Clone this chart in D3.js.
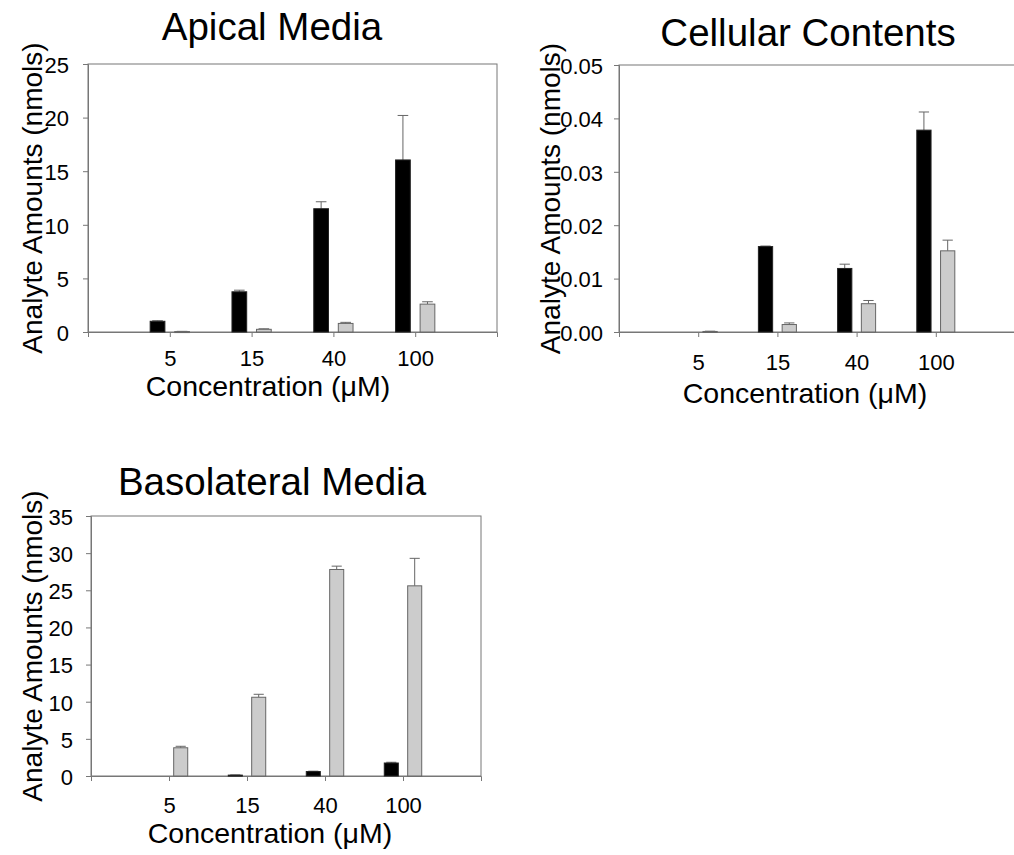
<!DOCTYPE html>
<html>
<head>
<meta charset="utf-8">
<script src="https://cdn.jsdelivr.net/npm/d3@7"></script>
<style>
  body { margin: 0; background: #fff; }
  svg { display: block; font-family: "Liberation Sans", Arial, sans-serif; }
</style>
</head>
<body>
<script>
// Concentrations on the x axis (µM)
const concentrations = ["5", "15", "40", "100"];

// Apical media (nmols)
const apicalBlack = [1.0, 3.75, 11.5, 16.05];
const apicalBlackErr = [0.05, 0.15, 0.65, 4.15];
const apicalGray = [0.04, 0.25, 0.8, 2.6];
const apicalGrayErr = [0.02, 0.05, 0.1, 0.22];

// Cellular contents (nmols)
const cellBlack = [0, 0.016, 0.0119, 0.0378];
const cellBlackErr = [0, 0.0001, 0.0008, 0.0034];
const cellGray = [0.0001, 0.0014, 0.0053, 0.0152];
const cellGrayErr = [0.00005, 0.0003, 0.0006, 0.002];

// Basolateral media (nmols)
const basoBlack = [0, 0.12, 0.6, 1.75];
const basoBlackErr = [0, 0.02, 0.05, 0.1];
const basoGray = [3.8, 10.6, 27.8, 25.6];
const basoGrayErr = [0.2, 0.4, 0.45, 3.7];

const svgWidth = 1014;
const svgHeight = 855;

const svg = d3.select("body")
  .append("svg")
  .attr("width", svgWidth)
  .attr("height", svgHeight);

const axisColor = "#777";
const tickFont = 22;

function drawPanel(p) {
  const x = d3.scaleLinear().domain([0, 5]).range([p.left, p.left + p.width]);
  const y = d3.scaleLinear().domain([0, p.yMax]).range([p.top + p.height, p.top]);

  const g = svg.append("g");

  // frame
  g.append("rect")
    .attr("x", p.left)
    .attr("y", p.top)
    .attr("width", p.width)
    .attr("height", p.height)
    .attr("fill", "none")
    .attr("stroke", axisColor)
    .attr("stroke-width", 1);

  // y axis
  const yAxis = g.append("g")
    .attr("transform", `translate(${p.left},0)`)
    .call(d3.axisLeft(y).tickValues(d3.range(0, p.yMax + p.yStep / 2, p.yStep))
      .tickFormat(d3.format(p.yFormat)).tickSizeOuter(0).tickSize(5).tickPadding(p.yPad));
  yAxis.select(".domain").attr("stroke", axisColor);
  yAxis.selectAll(".tick line").attr("stroke", axisColor);
  yAxis.selectAll(".tick text")
    .attr("fill", "#000")
    .attr("font-size", tickFont)
    .attr("font-family", "Liberation Sans, Arial, sans-serif")
    .attr("dy", "0.38em");

  // x axis
  const xAxis = g.append("g")
    .attr("transform", `translate(0,${p.top + p.height})`)
    .call(d3.axisBottom(x).tickValues([1, 2, 3, 4])
      .tickFormat((d, i) => concentrations[i]).tickSizeOuter(0).tickSize(5).tickPadding(p.xPad));
  xAxis.select(".domain").attr("stroke", axisColor);
  xAxis.selectAll(".tick line").attr("stroke", axisColor);
  xAxis.selectAll(".tick text")
    .attr("fill", "#000")
    .attr("font-size", tickFont)
    .attr("font-family", "Liberation Sans, Arial, sans-serif");

  const barW = 0.18;
  const series = [
    { vals: p.black, errs: p.blackErr, off: -0.15, fill: "#000", stroke: "#222" },
    { vals: p.gray, errs: p.grayErr, off: 0.15, fill: "#cccccc", stroke: "#666" }
  ];

  series.forEach(s => {
    const data = s.vals.map((v, i) => ({ i: i + 1, v: v, e: s.errs[i] })).filter(d => d.v > 0);

    // error bars (upper only)
    g.selectAll(null)
      .data(data)
      .enter()
      .append("line")
      .attr("x1", d => x(d.i + s.off))
      .attr("x2", d => x(d.i + s.off))
      .attr("y1", d => y(d.v))
      .attr("y2", d => y(d.v + d.e))
      .attr("stroke", "#666")
      .attr("stroke-width", 1);
    g.selectAll(null)
      .data(data)
      .enter()
      .append("line")
      .attr("x1", d => x(d.i + s.off - 0.065))
      .attr("x2", d => x(d.i + s.off + 0.065))
      .attr("y1", d => y(d.v + d.e))
      .attr("y2", d => y(d.v + d.e))
      .attr("stroke", "#666")
      .attr("stroke-width", 1);

    g.selectAll(null)
      .data(data)
      .enter()
      .append("rect")
      .attr("x", d => x(d.i + s.off - barW / 2))
      .attr("y", d => y(d.v))
      .attr("width", d => x(d.i + s.off + barW / 2) - x(d.i + s.off - barW / 2))
      .attr("height", d => Math.max(y(0) - y(d.v), 1))
      .attr("fill", s.fill)
      .attr("stroke", s.stroke)
      .attr("stroke-width", 1);
  });

  // title
  svg.append("text")
    .attr("x", p.titleX)
    .attr("y", p.titleY)
    .attr("text-anchor", "middle")
    .attr("font-size", 38.5)
    .text(p.title);

  // x label
  svg.append("text")
    .attr("x", p.xLabelX)
    .attr("y", p.xLabelY)
    .attr("text-anchor", "middle")
    .attr("font-size", 28.5)
    .text("Concentration (\u03bcM)");

  // y label
  svg.append("text")
    .attr("transform", `translate(${p.yLabelX},${p.top + p.height / 2}) rotate(-90)`)
    .attr("text-anchor", "middle")
    .attr("font-size", 28)
    .text("Analyte Amounts (nmols)");
}

drawPanel({
  title: "Apical Media", titleX: 272, titleY: 40,
  left: 88, top: 64, width: 409, height: 268,
  yMax: 25, yStep: 5, yFormat: "d", yPad: 14, xPad: 13,
  black: apicalBlack, blackErr: apicalBlackErr, gray: apicalGray, grayErr: apicalGrayErr,
  xLabelX: 268, xLabelY: 396, yLabelX: 42
});

drawPanel({
  title: "Cellular Contents", titleX: 808, titleY: 46,
  left: 619, top: 65, width: 396, height: 267,
  yMax: 0.05, yStep: 0.01, yFormat: ".2f", yPad: 11, xPad: 17,
  black: cellBlack, blackErr: cellBlackErr, gray: cellGray, grayErr: cellGrayErr,
  xLabelX: 805, xLabelY: 403, yLabelX: 560
});

drawPanel({
  title: "Basolateral Media", titleX: 272, titleY: 495,
  left: 91, top: 516, width: 390, height: 260,
  yMax: 35, yStep: 5, yFormat: "d", yPad: 13, xPad: 16,
  black: basoBlack, blackErr: basoBlackErr, gray: basoGray, grayErr: basoGrayErr,
  xLabelX: 270, xLabelY: 843, yLabelX: 42
});
</script>
</body>
</html>
